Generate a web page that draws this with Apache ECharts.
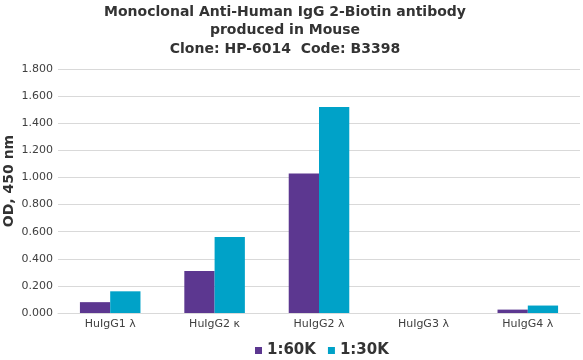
<!DOCTYPE html>
<html><head><meta charset="utf-8">
<script src="https://cdn.jsdelivr.net/npm/echarts@6/dist/echarts.min.js"></script>
<style>html,body{margin:0;padding:0;background:#fff}#c{width:583px;height:360px}</style>
</head><body><div id="c"></div>
<script>
const categories = ['HuIgG1 λ', 'HuIgG2 κ', 'HuIgG2 λ', 'HuIgG3 λ', 'HuIgG4 λ'];
const series60K = [0.080, 0.310, 1.030, 0.000, 0.025];
const series30K = [0.160, 0.560, 1.520, 0.000, 0.055];
const seriesNames = ['1:60K', '1:30K'];
const yTicks = {min: 0, max: 1.8, interval: 0.2};
const titleText = 'Monoclonal Anti-Human IgG 2-Biotin antibody\nproduced in Mouse\nClone: HP-6014  Code: B3398';

const chart = echarts.init(document.getElementById('c'), null, {renderer: 'canvas'});
const font = 'DejaVu Sans';
chart.setOption({
  animation: false,
  title: {
    text: titleText, left: 280, top: -2, textAlign: 'center',
    textStyle: {fontFamily: font, fontSize: 14, fontWeight: 'bold', color: '#333', lineHeight: 18.5}
  },
  legend: {
    data: seriesNames, top: 343, left: 255, itemWidth: 7, itemHeight: 7, itemGap: 12,
    icon: 'rect', padding: 0,
    textStyle: {fontFamily: font, fontSize: 15, fontWeight: 'bold', color: '#333'}
  },
  grid: {left: 58, right: 3, top: 69, bottom: 47, containLabel: false, outerBoundsMode: 'none'},
  xAxis: {
    type: 'category', data: categories,
    axisLine: {lineStyle: {color: '#d9d9d9'}}, axisTick: {show: false},
    axisLabel: {fontFamily: font, fontSize: 11, color: '#404040', margin: 6}
  },
  yAxis: {
    type: 'value', min: yTicks.min, max: yTicks.max, interval: yTicks.interval,
    name: 'OD, 450 nm', nameLocation: 'middle', nameGap: 42, nameMoveOverlap: false,
    nameTextStyle: {fontFamily: font, fontSize: 14, fontWeight: 'bold', color: '#333', padding: [0,0,0,20]},
    axisLabel: {fontFamily: font, fontSize: 11, color: '#404040', margin: 5, formatter: v => v.toFixed(3)},
    splitLine: {lineStyle: {color: '#d9d9d9'}}, axisLine: {show: false}, axisTick: {show: false}
  },
  series: [
    {name: seriesNames[0], type: 'bar', data: series60K, itemStyle: {color: '#5c3790'}, barGap: '0%', barCategoryGap: '42%'},
    {name: seriesNames[1], type: 'bar', data: series30K, itemStyle: {color: '#00a2c8'}, barGap: '0%', barCategoryGap: '42%'}
  ]
});
</script></body></html>
